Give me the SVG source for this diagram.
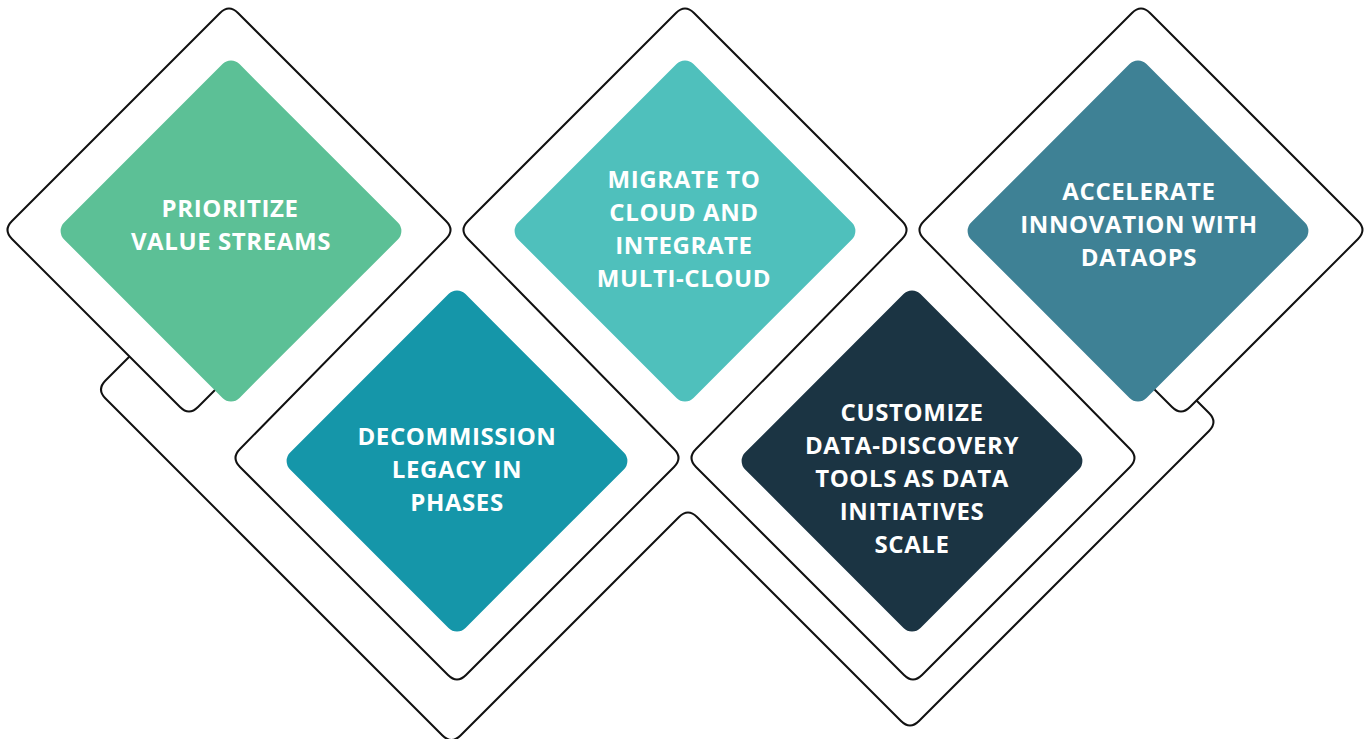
<svg xmlns="http://www.w3.org/2000/svg" width="1372" height="739" viewBox="0 0 1372 739">
  <style>
    .bg { fill: #ffffff; }
    .line { fill: none; stroke: #111111; stroke-width: 2; stroke-linejoin: round; }
    .lbl { font-family: "Open Sans", "Liberation Sans", sans-serif; font-weight: 700; font-size: 24px; letter-spacing: 0.6px; fill: #ffffff; text-anchor: middle; }
  </style>
  <defs>
    <rect id="dia" x="-124" y="-124" width="248" height="248" rx="12" ry="12" transform="rotate(45)"/>
  </defs>
  <rect class="bg" x="0" y="0" width="1372" height="739"/>

  <g id="connectors">
    <path id="outer-band" class="line" d="M 129.5 356.5 L 105.5 380.5 Q 96.5 389.5 105.5 398.5 L 442.5 735.5 Q 451.5 744.5 460.5 735.5 L 679 517 Q 688 508 697 517 L 901 721 Q 910 730 919 721 L 1209 431 Q 1218 422 1209 413 L 1196.5 400.5"/>
    <path id="inner-band" class="line" d="M 222 383 L 198 407 Q 189 416 180 407 L 12 239 Q 3 230 12 221 L 220 13 Q 229 4 238 13 L 446 221 Q 455 230 446 239 L 240 449 Q 231 458 240 467 L 448 675 Q 457 684 466 675 L 674 467 Q 683 458 674 449 L 468 239 Q 459 230 468 221 L 676 13 Q 685 4 694 13 L 902 221 Q 911 230 902 239 L 696 449 Q 687 458 696 467 L 904 675 Q 913 684 922 675 L 1130 467 Q 1139 458 1130 449 L 924 239 Q 915 230 924 221 L 1132 13 Q 1141 4 1150 13 L 1358 221 Q 1367 230 1358 239 L 1190 407 Q 1181 416 1172 407 L 1145 380"/>
  </g>

  <g id="node-prioritize">
    <use href="#dia" transform="translate(231,231)" fill="#5CC096"/>
    <text class="lbl" x="230" y="216.5">PRIORITIZE</text>
    <text class="lbl" x="231" y="249.5">VALUE STREAMS</text>
  </g>

  <g id="node-decommission">
    <use href="#dia" transform="translate(457,461)" fill="#1596A9"/>
    <text class="lbl" x="457" y="445">DECOMMISSION</text>
    <text class="lbl" x="457" y="478">LEGACY IN</text>
    <text class="lbl" x="457" y="511">PHASES</text>
  </g>

  <g id="node-migrate">
    <use href="#dia" transform="translate(685,231)" fill="#4FC0BC"/>
    <text class="lbl" x="684" y="187.5">MIGRATE TO</text>
    <text class="lbl" x="684" y="220.5">CLOUD AND</text>
    <text class="lbl" x="684" y="253.5">INTEGRATE</text>
    <text class="lbl" x="684" y="286.5">MULTI-CLOUD</text>
  </g>

  <g id="node-customize">
    <use href="#dia" transform="translate(912,461)" fill="#1B3443"/>
    <text class="lbl" x="912" y="421">CUSTOMIZE</text>
    <text class="lbl" x="912" y="454">DATA-DISCOVERY</text>
    <text class="lbl" x="912" y="487">TOOLS AS DATA</text>
    <text class="lbl" x="912" y="520">INITIATIVES</text>
    <text class="lbl" x="912" y="553">SCALE</text>
  </g>

  <g id="node-accelerate">
    <use href="#dia" transform="translate(1138,231)" fill="#3E8195"/>
    <text class="lbl" x="1139" y="200">ACCELERATE</text>
    <text class="lbl" x="1139" y="233">INNOVATION WITH</text>
    <text class="lbl" x="1139" y="266">DATAOPS</text>
  </g>
</svg>
